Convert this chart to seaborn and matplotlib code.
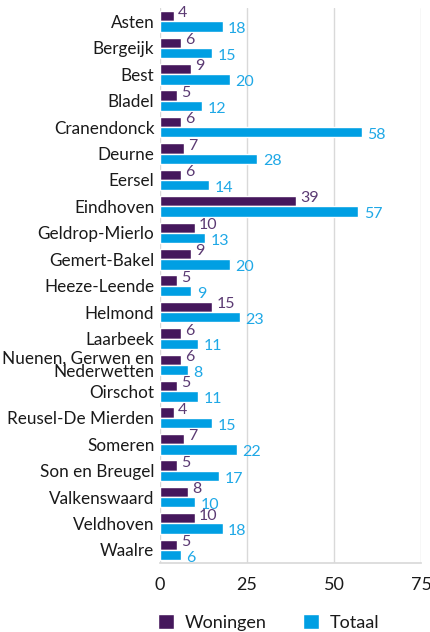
import matplotlib
matplotlib.use("Agg")
import matplotlib.pyplot as plt
import seaborn as sns
import pandas as pd

gemeenten = ["Asten", "Bergeijk", "Best", "Bladel", "Cranendonck", "Deurne", "Eersel",
             "Eindhoven", "Geldrop-Mierlo", "Gemert-Bakel", "Heeze-Leende", "Helmond",
             "Laarbeek", "Nuenen, Gerwen en\nNederwetten", "Oirschot", "Reusel-De Mierden",
             "Someren", "Son en Breugel", "Valkenswaard", "Veldhoven", "Waalre"]
woningen = [4, 6, 9, 5, 6, 7, 6, 39, 10, 9, 5, 15, 6, 6, 5, 4, 7, 5, 8, 10, 5]
totaal = [18, 15, 20, 12, 58, 28, 14, 57, 13, 20, 9, 23, 11, 8, 11, 15, 22, 17, 10, 18, 6]
series = ["Woningen", "Totaal"]
xticks = [0, 25, 50, 75]

colors = {"Woningen": "#45175c", "Totaal": "#009fe3"}
label_colors = {"Woningen": "#5b3a73", "Totaal": "#1fa8e6"}

df = pd.DataFrame({
    "Gemeente": gemeenten * 2,
    "Waarde": woningen + totaal,
    "Reeks": [series[0]] * len(gemeenten) + [series[1]] * len(gemeenten),
})

sns.set_theme(style="white")
plt.rcParams['font.family'] = ['Lato', 'DejaVu Sans']

fig = plt.figure(figsize=(4.31, 6.32), dpi=100)
ax = fig.add_axes([0.371, 0.109, 0.606, 0.878])
sns.barplot(data=df, y="Gemeente", x="Waarde", hue="Reeks", palette=colors,
            orient="h", width=0.78, saturation=1, ax=ax, legend=True)

ax.set_xlim(0, 75)
ax.set_xticks(xticks)
ax.set_xticklabels([str(t) for t in xticks], fontsize=13, color="#1a1a1a")
ax.tick_params(axis="y", labelsize=12.3, colors="#1a1a1a", length=0, pad=4)
ax.tick_params(axis="x", length=0, pad=10)
ax.set_xlabel("")
ax.set_ylabel("")
ax.grid(axis="x", color="#d9d9d9", linewidth=1)
ax.set_axisbelow(True)
for s in ["top", "left", "right"]:
    ax.spines[s].set_visible(False)
ax.spines["bottom"].set_color("#d9d9d9")
for lbl in ax.get_yticklabels():
    lbl.set_linespacing(0.8)

for container, name in zip(ax.containers, series):
    for bar in container:
        w = bar.get_width()
        y = bar.get_y() + bar.get_height() / 2
        dy = 2 if name == "Woningen" else -2
        dx = 3 if name == "Woningen" else 4
        ax.annotate(f"{int(round(w))}", (w, y), xytext=(dx, dy), textcoords="offset points",
                    ha="left", va="center", fontsize=11.5, color=label_colors[name])

leg = ax.legend(loc="center left", bbox_to_anchor=(-0.07, -0.107), ncol=2, frameon=False,
                fontsize=13, handlelength=0.9, handleheight=0.9, columnspacing=2.0,
                handletextpad=0.6)
for t in leg.get_texts():
    t.set_color("#1a1a1a")

fig.savefig("out.png", dpi=100)
